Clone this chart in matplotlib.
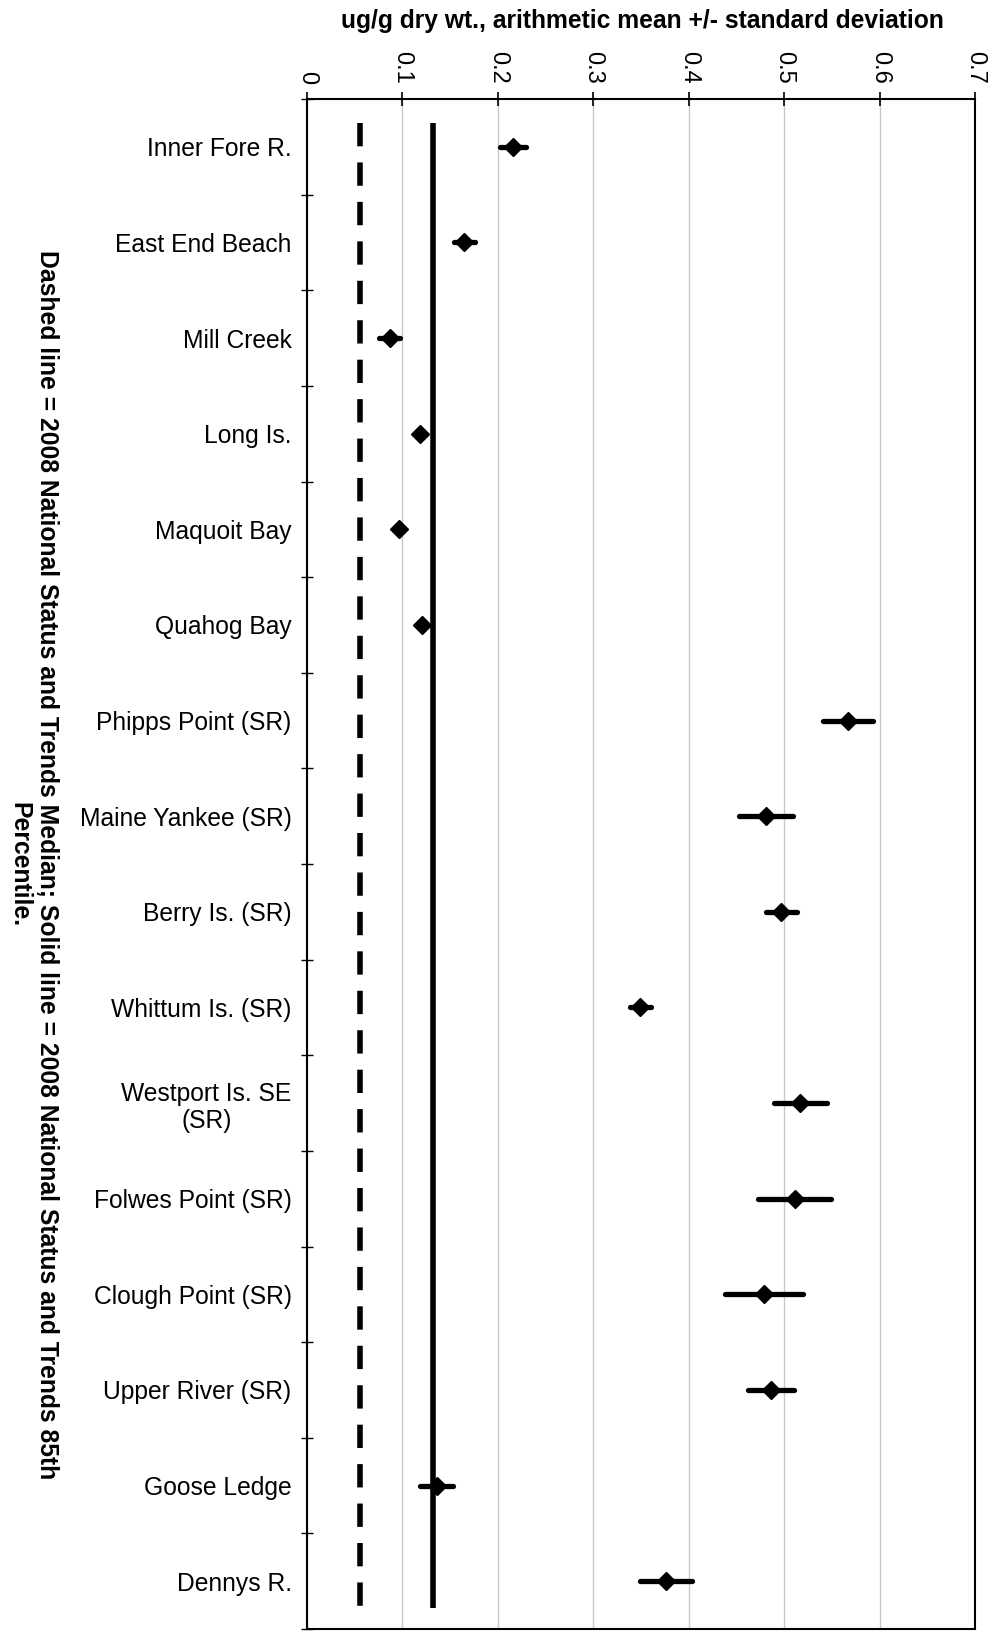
import numpy as np
import matplotlib
matplotlib.use("Agg")
import matplotlib.pyplot as plt

plt.rcParams['font.family'] = ['Liberation Sans', 'DejaVu Sans']

# site names, top to bottom
sites = ['Inner Fore R.', 'East End Beach', 'Mill Creek', 'Long Is.', 'Maquoit Bay',
         'Quahog Bay', 'Phipps Point (SR)', 'Maine Yankee (SR)', 'Berry Is. (SR)',
         'Whittum Is. (SR)', 'Westport Is. SE\n(SR)', 'Folwes Point (SR)',
         'Clough Point (SR)', 'Upper River (SR)', 'Goose Ledge', 'Dennys R.']
# ug/g dry wt, mean and standard deviation
means = [0.216, 0.165, 0.087, 0.119, 0.097, 0.121, 0.567, 0.481, 0.497,
         0.349, 0.517, 0.511, 0.479, 0.486, 0.136, 0.376]
sds = [0.014, 0.011, 0.011, 0.006, 0.0, 0.006, 0.026, 0.028, 0.016,
       0.011, 0.028, 0.038, 0.041, 0.024, 0.017, 0.027]

nst_median = 0.056   # dashed
nst_85th = 0.132     # solid

xticks = [0, 0.1, 0.2, 0.3, 0.4, 0.5, 0.6, 0.7]
xticklabels = ['0', '0.1', '0.2', '0.3', '0.4', '0.5', '0.6', '0.7']

fig = plt.figure(figsize=(9.93, 16.32), dpi=100)
ax = fig.add_axes([0.309, 0.0018, 0.673, 0.9375])

y = np.arange(len(sites))

ax.vlines(nst_median, -0.25, len(sites) - 0.72, colors='black', linewidth=4,
          linestyles=(0, (4.2, 2.9)))
ax.vlines(nst_85th, -0.25, len(sites) - 0.72, colors='black', linewidth=4)

eb = ax.errorbar(means, y, xerr=sds, fmt='D', color='black', markersize=9.5,
                 elinewidth=3.8, capsize=0, zorder=5)
eb[2][0].set_capstyle('round')

ax.set_xlim(0, 0.7)
ax.set_ylim(len(sites) - 0.5, -0.5)

ax.xaxis.tick_top()
ax.set_xticks(xticks)
ax.set_xticklabels(xticklabels, rotation=-90, fontsize=17)
ax.tick_params(axis='x', direction='inout', length=10, width=1.2, pad=6)
ax.grid(axis='x', color='#c8c8c8', linewidth=1)
ax.set_axisbelow(True)

ax.set_yticks(y)
ax.set_yticklabels(sites, fontsize=17.7, ha='right', multialignment='center')
ax.set_yticks(np.arange(len(sites) + 1) - 0.5, minor=True)
ax.tick_params(axis='y', which='major', length=0, pad=11)
ax.tick_params(axis='y', which='minor', direction='inout', length=9, width=1)

for s in ax.spines.values():
    s.set_linewidth(1.5)

fig.text(0.6465, 1 - 21 / 1632, 'ug/g dry wt., arithmetic mean +/- standard deviation',
         ha='center', va='center', fontsize=17.7, fontweight='bold')

fig.text(33 / 993, 0.47, 'Dashed line = 2008 National Status and Trends Median; Solid line = 2008 '
         'National Status and Trends 85th\nPercentile.',
         rotation=-90, ha='center', va='center', multialignment='center',
         fontsize=17.8, fontweight='bold', linespacing=1.2)

fig.savefig('out.png', dpi=100)
